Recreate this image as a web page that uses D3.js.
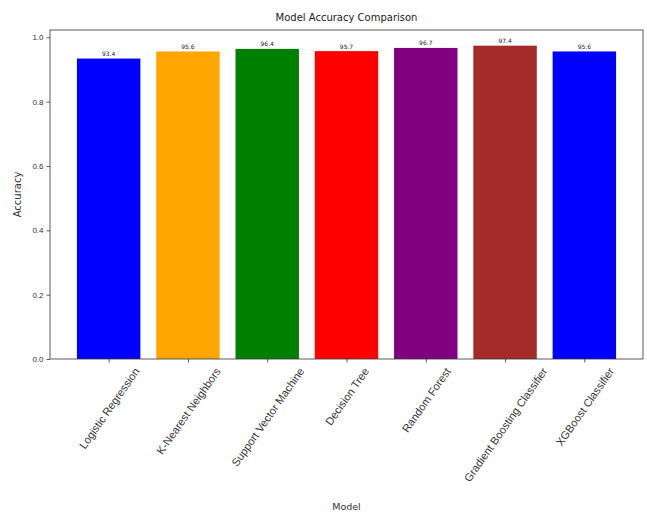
<!DOCTYPE html>
<html>
<head>
<meta charset="utf-8">
<script src="https://cdn.jsdelivr.net/npm/d3@7"></script>
<style>
  html, body { margin: 0; padding: 0; background: #fff; }
  svg { display: block; font-family: "DejaVu Sans", sans-serif; }
</style>
</head>
<body>
<svg id="chart" width="647" height="514"></svg>
<script>
// Model names, accuracies and bar colours
const models = [
  "Logistic Regression",
  "K-Nearest Neighbors",
  "Support Vector Machine",
  "Decision Tree",
  "Random Forest",
  "Gradient Boosting Classifier",
  "XGBoost Classifier"
];
const accuracies = [0.934, 0.956, 0.964, 0.957, 0.967, 0.974, 0.956];
const barColors = ["blue", "orange", "green", "red", "purple", "brown", "blue"];
const yTicks = [0.0, 0.2, 0.4, 0.6, 0.8, 1.0];

const svg = d3.select("#chart");
const plot = { left: 50, right: 643, top: 30, bottom: 359 };

// Band positions follow a bar width of 0.8 with a 5% margin on each side
const n = models.length;
const pad = 0.05 * (n - 1 + 0.8);
const xLin = d3.scaleLinear()
  .domain([-0.4 - pad, n - 1 + 0.4 + pad])
  .range([plot.left, plot.right]);

const y = d3.scaleLinear()
  .domain([0, d3.max(accuracies) * 1.05])
  .range([plot.bottom, plot.top]);

// Bars
svg.append("g").selectAll("rect")
  .data(accuracies)
  .join("rect")
  .attr("x", (d, i) => xLin(i - 0.4))
  .attr("width", (d, i) => xLin(i + 0.4) - xLin(i - 0.4))
  .attr("y", d => y(d))
  .attr("height", d => y(0) - y(d))
  .attr("fill", (d, i) => barColors[i]);

// Value labels above bars
svg.append("g").selectAll("text")
  .data(accuracies)
  .join("text")
  .attr("x", (d, i) => xLin(i))
  .attr("y", d => y(d) - 2.5)
  .attr("text-anchor", "middle")
  .attr("font-size", "6px")
  .attr("fill", "#222")
  .text(d => (d * 100).toFixed(1));

// Y axis
const yAxis = d3.axisLeft(y)
  .tickValues(yTicks)
  .tickFormat(d3.format(".1f"))
  .tickSize(3.5)
  .tickPadding(3);
const gy = svg.append("g")
  .attr("transform", `translate(${plot.left},0)`)
  .call(yAxis);
gy.select(".domain").remove();
gy.selectAll("text").attr("font-size", "8px").attr("fill", "#333");
gy.selectAll("line").attr("stroke", "#333").attr("stroke-width", 0.8);

// X axis with rotated model names
const xAxis = d3.axisBottom(xLin)
  .tickValues(d3.range(n))
  .tickFormat(i => models[i])
  .tickSize(3.5)
  .tickPadding(0);
const gx = svg.append("g")
  .attr("transform", `translate(0,${plot.bottom})`)
  .call(xAxis);
gx.select(".domain").remove();
gx.selectAll("line").attr("stroke", "#333").attr("stroke-width", 0.8);
gx.selectAll("text")
  .attr("font-size", "11px")
  .attr("fill", "#333")
  .each(function () {
    const t = d3.select(this);
    const len = this.getComputedTextLength();
    const a = 55 * Math.PI / 180;
    // centre the rotated label's bounding box under its tick
    const h = len * Math.sin(a) + 10 * Math.cos(a);
    t.attr("text-anchor", "middle")
      .attr("dy", null)
      .attr("y", 0)
      .attr("transform", `translate(0,${7 + h / 2}) rotate(-55)`)
      .attr("dominant-baseline", "central");
  });

// Frame
svg.append("rect")
  .attr("x", plot.left)
  .attr("y", plot.top)
  .attr("width", plot.right - plot.left)
  .attr("height", plot.bottom - plot.top)
  .attr("fill", "none")
  .attr("stroke", "#333")
  .attr("stroke-width", 0.8);

// Title and axis labels
svg.append("text")
  .attr("x", (plot.left + plot.right) / 2)
  .attr("y", 21)
  .attr("text-anchor", "middle")
  .attr("font-size", "10px")
  .attr("fill", "#222")
  .text("Model Accuracy Comparison");

svg.append("text")
  .attr("transform", `translate(21,${(plot.top + plot.bottom) / 2}) rotate(-90)`)
  .attr("text-anchor", "middle")
  .attr("font-size", "10px")
  .attr("fill", "#333")
  .text("Accuracy");

svg.append("text")
  .attr("x", (plot.left + plot.right) / 2)
  .attr("y", 510)
  .attr("text-anchor", "middle")
  .attr("font-size", "9.5px")
  .attr("fill", "#333")
  .text("Model");
</script>
</body>
</html>
